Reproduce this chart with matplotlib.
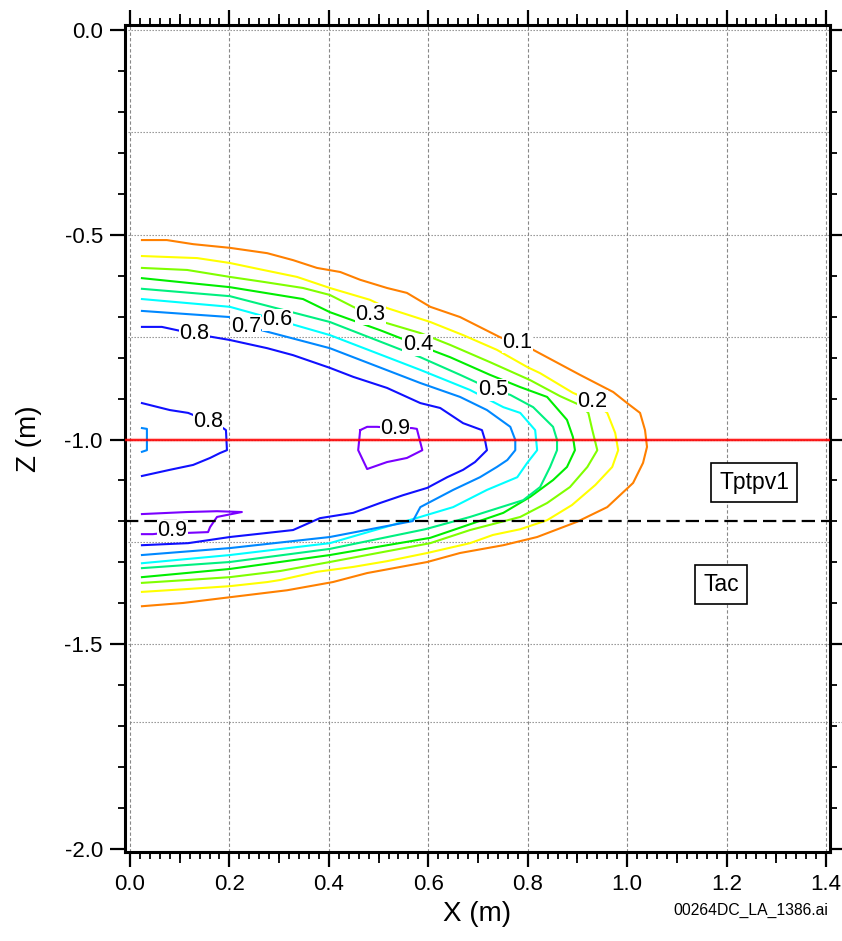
import matplotlib.pyplot as plt
import numpy as np

plt.rcParams['font.family'] = ['Liberation Sans', 'DejaVu Sans']
plt.rcParams['axes.unicode_minus'] = False

# contour levels and colours
levels = [0.1, 0.2, 0.3, 0.4, 0.5, 0.6, 0.7, 0.8, 0.9]
level_colors = {0.1: '#ff8000', 0.2: '#ffff00', 0.3: '#80ff00', 0.4: '#00ee00',
                0.5: '#00f080', 0.6: '#00ffff', 0.7: '#0088ff', 0.8: '#1010ff',
                0.9: '#7a00ff'}

# contour lines (x and z in metres)
x_01 = [0.024, 0.074, 0.127, 0.201, 0.276, 0.328, 0.376, 0.423, 0.463, 0.517, 0.557, 0.604, 0.664, 0.744,
        0.811, 0.905, 0.972, 1.000, 1.026, 1.036, 1.040, 1.032, 1.012, 0.960, 0.899, 0.819, 0.751, 0.664,
        0.598, 0.477, 0.408, 0.316, 0.201, 0.107, 0.024]
z_01 = [-0.513, -0.513, -0.523, -0.532, -0.545, -0.562, -0.581, -0.591, -0.610, -0.630, -0.642, -0.676,
        -0.701, -0.750, -0.781, -0.842, -0.884, -0.911, -0.935, -0.977, -1.018, -1.057, -1.106, -1.165,
        -1.201, -1.238, -1.258, -1.277, -1.299, -1.326, -1.348, -1.368, -1.385, -1.399, -1.407]

x_02 = [0.024, 0.135, 0.201, 0.268, 0.336, 0.402, 0.483, 0.517, 0.604, 0.670, 0.738, 0.799, 0.825, 0.891,
        0.930, 0.960, 0.976, 0.982, 0.970, 0.936, 0.889, 0.839, 0.785, 0.730, 0.684, 0.598, 0.517, 0.449,
        0.376, 0.302, 0.276, 0.201, 0.115, 0.024]
z_02 = [-0.552, -0.557, -0.569, -0.586, -0.603, -0.630, -0.659, -0.679, -0.713, -0.745, -0.781, -0.823,
        -0.838, -0.886, -0.906, -0.935, -0.984, -1.026, -1.067, -1.111, -1.160, -1.197, -1.219, -1.233,
        -1.253, -1.277, -1.297, -1.311, -1.323, -1.343, -1.348, -1.358, -1.365, -1.372]

x_03 = [0.024, 0.115, 0.201, 0.268, 0.348, 0.402, 0.449, 0.483, 0.509, 0.584, 0.644, 0.724, 0.805, 0.865,
        0.905, 0.922, 0.930, 0.940, 0.920, 0.885, 0.839, 0.785, 0.684, 0.604, 0.402, 0.302, 0.201, 0.115,
        0.024]
z_03 = [-0.581, -0.586, -0.603, -0.615, -0.630, -0.647, -0.676, -0.694, -0.713, -0.740, -0.769, -0.811,
        -0.855, -0.894, -0.916, -0.935, -0.977, -1.026, -1.067, -1.116, -1.155, -1.189, -1.221, -1.253,
        -1.299, -1.321, -1.336, -1.343, -1.350]

x_04 = [0.024, 0.201, 0.348, 0.402, 0.503, 0.579, 0.644, 0.724, 0.785, 0.839, 0.879, 0.891, 0.895, 0.879,
        0.851, 0.805, 0.751, 0.650, 0.604, 0.402, 0.201, 0.024]
z_04 = [-0.606, -0.628, -0.657, -0.689, -0.733, -0.769, -0.799, -0.842, -0.872, -0.896, -0.952, -0.994,
        -1.026, -1.067, -1.099, -1.140, -1.179, -1.221, -1.240, -1.282, -1.316, -1.336]

x_05 = [0.024, 0.201, 0.402, 0.584, 0.664, 0.730, 0.765, 0.811, 0.851, 0.859, 0.859, 0.845, 0.825, 0.791,
        0.684, 0.594, 0.402, 0.201, 0.024]
z_05 = [-0.632, -0.650, -0.713, -0.799, -0.842, -0.879, -0.891, -0.921, -0.969, -1.001, -1.026, -1.067,
        -1.116, -1.148, -1.189, -1.219, -1.267, -1.299, -1.314]

x_06 = [0.024, 0.201, 0.296, 0.402, 0.584, 0.684, 0.751, 0.785, 0.815, 0.819, 0.799, 0.779, 0.718, 0.650,
        0.584, 0.402, 0.201, 0.024]
z_06 = [-0.657, -0.676, -0.708, -0.745, -0.830, -0.879, -0.921, -0.935, -0.977, -1.026, -1.057, -1.092,
        -1.123, -1.165, -1.189, -1.253, -1.282, -1.302]

x_07 = [0.024, 0.201, 0.233, 0.402, 0.584, 0.664, 0.718, 0.765, 0.775, 0.775, 0.759, 0.738, 0.704, 0.650,
        0.584, 0.569, 0.402, 0.201, 0.024]
z_07 = [-0.686, -0.701, -0.723, -0.777, -0.862, -0.896, -0.928, -0.969, -1.001, -1.026, -1.050, -1.067,
        -1.092, -1.123, -1.165, -1.199, -1.238, -1.265, -1.282]

x_07b = [0.024, 0.034, 0.034, 0.034, 0.024]
z_07b = [-0.972, -0.974, -1.001, -1.026, -1.030]

x_08 = [0.024, 0.064, 0.129, 0.201, 0.276, 0.328, 0.402, 0.449, 0.517, 0.584, 0.624, 0.670, 0.708, 0.714,
        0.718, 0.694, 0.670, 0.638, 0.598, 0.549, 0.503, 0.449, 0.382, 0.328, 0.276, 0.201, 0.117, 0.024]
z_08 = [-0.725, -0.725, -0.742, -0.757, -0.777, -0.794, -0.825, -0.847, -0.874, -0.911, -0.923, -0.960,
        -0.977, -1.001, -1.026, -1.055, -1.074, -1.092, -1.118, -1.136, -1.155, -1.179, -1.192, -1.221,
        -1.228, -1.238, -1.253, -1.258]

x_08b = [0.024, 0.080, 0.117, 0.157, 0.187, 0.193, 0.195, 0.181, 0.161, 0.127, 0.080, 0.024]
z_08b = [-0.911, -0.928, -0.935, -0.955, -0.972, -0.977, -1.026, -1.033, -1.045, -1.062, -1.074, -1.089]

x_09 = [0.463, 0.477, 0.497, 0.533, 0.567, 0.577, 0.588, 0.557, 0.517, 0.477, 0.459, 0.463]
z_09 = [-0.977, -0.969, -0.969, -0.972, -0.972, -0.974, -1.026, -1.045, -1.055, -1.072, -1.026, -0.977]

x_09b = [0.024, 0.115, 0.175, 0.225, 0.175, 0.161, 0.157, 0.115, 0.085, 0.046, 0.024]
z_09b = [-1.182, -1.177, -1.175, -1.177, -1.189, -1.214, -1.226, -1.228, -1.226, -1.231, -1.231]

contour_lines = [(0.1, x_01, z_01), (0.2, x_02, z_02), (0.3, x_03, z_03), (0.4, x_04, z_04),
                 (0.5, x_05, z_05), (0.6, x_06, z_06), (0.7, x_07, z_07), (0.7, x_07b, z_07b),
                 (0.8, x_08, z_08), (0.8, x_08b, z_08b), (0.9, x_09, z_09), (0.9, x_09b, z_09b)]

# inline contour labels
label_text = ['0.8', '0.7', '0.6', '0.3', '0.4', '0.1', '0.5', '0.2', '0.8', '0.9', '0.9']
label_x = [0.129, 0.233, 0.296, 0.483, 0.579, 0.779, 0.730, 0.930, 0.157, 0.533, 0.085]
label_z = [-0.742, -0.723, -0.708, -0.694, -0.769, -0.762, -0.879, -0.906, -0.955, -0.972, -1.223]

# geologic units and contacts
unit_names = ['Tptpv1', 'Tac']
unit_x = [1.256, 1.189]
unit_z = [-1.104, -1.353]
drift_z = -1.0
contact_z = -1.2
extra_z = -1.69

fig = plt.figure(figsize=(8.42, 9.41), dpi=100)
ax = fig.add_axes([0.1485, 0.0946, 0.8372, 0.8788])

for xv in np.arange(0, 1.41, 0.2):
    ax.axvline(xv, color='#888888', lw=0.8, ls=(0, (3, 2)), zorder=1)
for zv in np.arange(0, -1.51, -0.25):
    ax.axhline(zv, color='#888888', lw=0.8, ls=(0, (1.2, 1.5)), zorder=1)
ax.plot([0.0, 1.433], [extra_z, extra_z], color='#888888', lw=0.8, ls=(0, (1.2, 1.5)),
        clip_on=False, zorder=1)

for lev, xs, zs in contour_lines:
    ax.plot(xs, zs, color=level_colors[lev], lw=1.5, zorder=3)

ax.axhline(drift_z, color='#ff0000', lw=3, alpha=0.25, zorder=4)
ax.axhline(drift_z, color='#ff0000', lw=1.2, zorder=4)
ax.axhline(contact_z, color='black', lw=1.6, ls=(0, (6, 2.7)), zorder=4)

for t, xv, zv in zip(label_text, label_x, label_z):
    ax.text(xv, zv, t, fontsize=15.5, ha='center', va='center', zorder=5,
            bbox=dict(facecolor='white', edgecolor='none', pad=0.3))

for name, xv, zv in zip(unit_names, unit_x, unit_z):
    ax.text(xv, zv, name, fontsize=16.5, ha='center', va='center', zorder=5,
            bbox=dict(boxstyle='square,pad=0.35', facecolor='white', edgecolor='black', lw=1.2))

ax.set_xlim(-0.010, 1.408)
ax.set_ylim(-2.007, 0.012)

ax.set_xticks(np.arange(0, 1.41, 0.2))
ax.set_xticks(np.arange(0, 1.41, 0.02), minor=True)
ax.set_yticks(np.arange(-2.0, 0.01, 0.5))
ax.set_yticks(np.arange(-2.0, 0.01, 0.1), minor=True)
ax.set_xticklabels(['%.1f' % v for v in np.arange(0, 1.41, 0.2)])
ax.set_yticklabels(['%.1f' % v for v in np.arange(-2.0, 0.01, 0.5)])
ax.tick_params(which='major', direction='out', length=11, width=1.6, labelsize=16, pad=5,
               top=True, right=True)
ax.tick_params(which='minor', direction='out', length=5, width=1.3, top=True, right=True)

# mid ticks at every 0.1 on the x axes
for side in ['top', 'bottom']:
    sec = ax.secondary_xaxis(side)
    sec.set_xticks(np.arange(0.1, 1.4, 0.2))
    sec.tick_params(direction='out', length=8, width=1.3, labelbottom=False, labeltop=False)
    sec.spines[side].set_visible(False)

for s in ax.spines.values():
    s.set_linewidth(2.2)

ax.set_xlabel('X (m)', fontsize=20, labelpad=4)
ax.set_ylabel('Z (m)', fontsize=20, labelpad=16)

fig.text(0.9834, 0.033, '00264DC_LA_1386.ai', fontsize=11.3, ha='right', va='center')

plt.savefig('out.png', dpi=100)
